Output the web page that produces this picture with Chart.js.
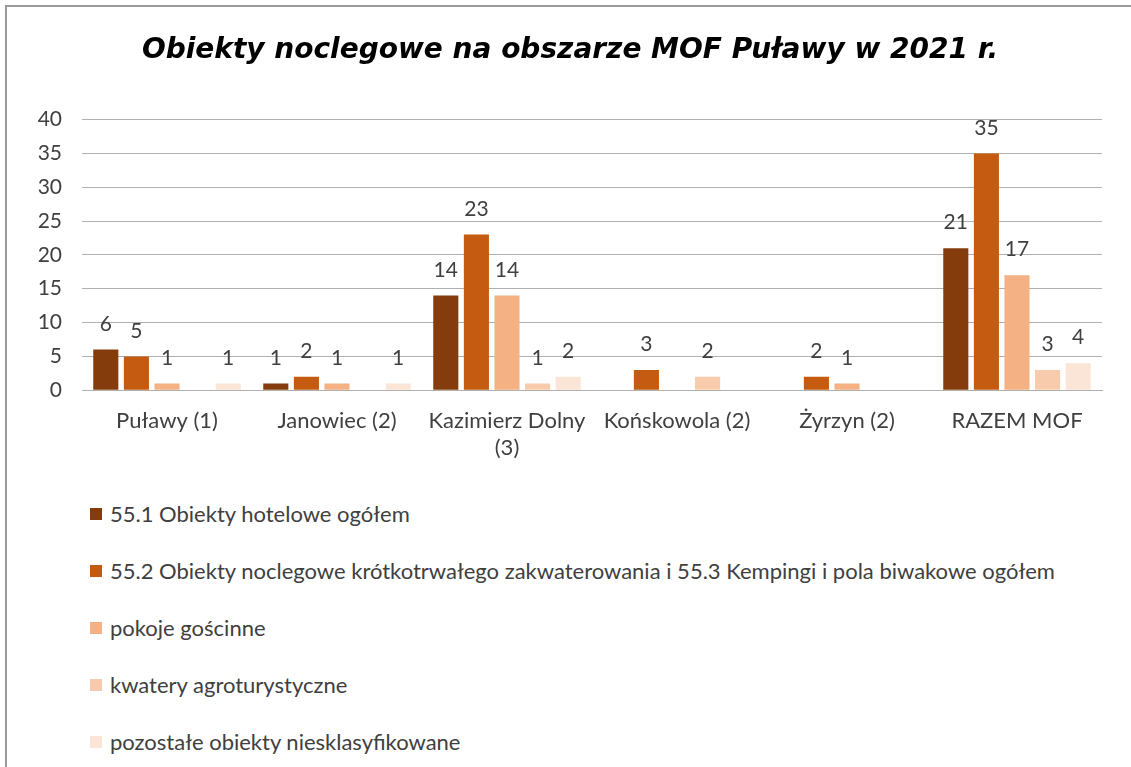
<!DOCTYPE html>
<html>
<head>
<meta charset="utf-8">
<script src="https://cdn.jsdelivr.net/npm/chart.js@4"></script>
<style>
    body { margin: 0; background: #fff; font-family: Lato, "Open Sans", sans-serif; overflow: hidden; }
    #frame { position: absolute; left: 5px; top: 5px; width: 1140px; height: 780px; border-left: 2px solid #9a9a9a; border-top: 2px solid #9a9a9a; }
    #chartBox { position: absolute; left: 0; top: 0; width: 1140px; height: 491px; }
    #legend { position: absolute; left: 90px; top: 500px; }
    .legend-item { height: 57px; display: flex; align-items: flex-start; font-size: 22px; color: #404040; }
    .legend-box { width: 12px; height: 12px; margin-top: 8px; margin-right: 8px; }
</style>
</head>
<body>
<div id="frame"></div>
<div id="chartBox"><canvas id="mofChart"></canvas></div>
<div id="legend"></div>

<script>
const categories = ["Puławy (1)", "Janowiec (2)", ["Kazimierz Dolny", "(3)"], "Końskowola (2)", "Żyrzyn (2)", "RAZEM MOF"];
const seriesNames = [
    "55.1 Obiekty hotelowe ogółem",
    "55.2 Obiekty noclegowe krótkotrwałego zakwaterowania i 55.3 Kempingi i pola biwakowe ogółem",
    "pokoje gościnne",
    "kwatery agroturystyczne",
    "pozostałe obiekty niesklasyfikowane"
];
const hotelowe = [6, 1, 14, null, null, 21];
const krotkotrwale = [5, 2, 23, 3, 2, 35];
const pokoje = [1, 1, 14, null, 1, 17];
const agroturystyczne = [null, null, 1, 2, null, 3];
const pozostale = [1, 1, 2, null, null, 4];
const yTicks = [0, 5, 10, 15, 20, 25, 30, 35, 40];

const colors = ["#843C0C", "#C55A11", "#F4B183", "#F8CBAD", "#FBE5D6"];
const seriesValues = [hotelowe, krotkotrwale, pokoje, agroturystyczne, pozostale];

// values above the bars
const valueLabels = {
    id: "valueLabels",
    afterDatasetsDraw(chart) {
        const ctx = chart.ctx;
        ctx.save();
        ctx.font = "21px Lato, sans-serif";
        ctx.fillStyle = "#404040";
        ctx.textAlign = "center";
        ctx.textBaseline = "bottom";
        chart.data.datasets.forEach((ds, i) => {
            const meta = chart.getDatasetMeta(i);
            meta.data.forEach((bar, j) => {
                if (ds.data[j] == null) return;
                ctx.fillText(ds.data[j], bar.x, bar.y - 15);
            });
        });
        ctx.restore();
    }
};

const chart = new Chart(document.getElementById("mofChart"), {
    type: "bar",
    data: {
        labels: categories,
        datasets: seriesNames.map((name, i) => ({
            label: name,
            data: seriesValues[i],
            backgroundColor: colors[i],
            categoryPercentage: 0.9,
            barPercentage: 0.82
        }))
    },
    options: {
        responsive: true,
        maintainAspectRatio: false,
        animation: false,
        layout: { padding: { left: 0, right: 0, bottom: 20 } },
        plugins: {
            legend: { display: false },
            tooltip: { enabled: false },
            title: {
                display: true,
                text: "Obiekty noclegowe na obszarze MOF Puławy w 2021 r.",
                color: "#000",
                font: { family: "'DejaVu Sans', sans-serif", size: 28, style: "italic", weight: "bold" },
                padding: { top: 34, bottom: 52 }
            }
        },
        scales: {
            x: {
                grid: { display: false },
                border: { color: "#b0b0b0" },
                ticks: { color: "#404040", font: { family: "Lato, sans-serif", size: 22 }, padding: 10, maxRotation: 0 }
            },
            y: {
                min: 0,
                max: 40,
                afterBuildTicks(scale) { scale.ticks = yTicks.map(v => ({ value: v })); },
                afterFit(scale) { scale.width = 82; },
                grid: { color: "#b0b0b0", drawTicks: false },
                border: { display: false },
                ticks: { color: "#404040", font: { family: "Lato, sans-serif", size: 21 }, padding: 20 }
            },
            // empty right axis, keeps the plot off the right edge so the title stays centred on the page
            spacer: {
                position: "right",
                afterFit(scale) { scale.width = 38; },
                grid: { display: false },
                border: { display: false },
                ticks: { display: false }
            }
        }
    },
    plugins: [valueLabels]
});

// legend as a vertical list below the chart
const legendDiv = document.getElementById("legend");
chart.data.datasets.forEach(ds => {
    legendDiv.innerHTML += `<div class="legend-item"><span class="legend-box" style="background:${ds.backgroundColor}"></span><span>${ds.label}</span></div>`;
});
</script>
</body>
</html>
